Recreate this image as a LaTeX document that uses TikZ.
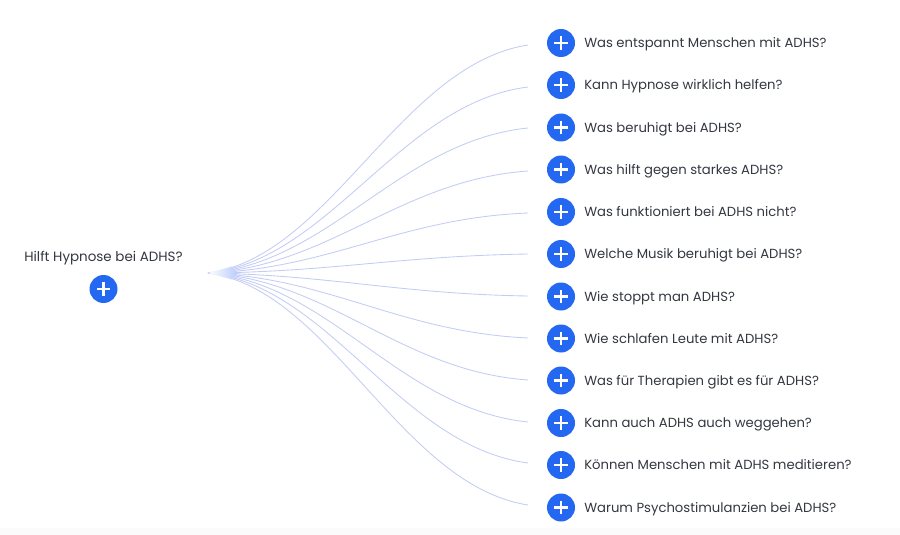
\documentclass[tikz,border=0pt]{standalone}
\usepackage{fontspec}
\setmainfont{Poppins}
\definecolor{plusblue}{HTML}{2468F2}
\definecolor{linkblue}{HTML}{C3CDF4}
\definecolor{blobblue}{HTML}{B9CBFC}
\definecolor{labelgray}{HTML}{333740}
\definecolor{stripgray}{HTML}{FBFBFB}

\begin{document}
\begin{tikzpicture}[x=0.75pt,y=-0.75pt,plusc/.style={shape=circle,fill=plusblue,inner sep=0pt,minimum size=21pt,path picture={\draw[white,line width=1.8pt] ([xshift=-5pt]path picture bounding box.center) -- ([xshift=5pt]path picture bounding box.center) ([yshift=-5pt]path picture bounding box.center) -- ([yshift=5pt]path picture bounding box.center);}},question/.style={anchor=base west,inner sep=0pt,yshift=-3.4pt,text=labelgray,font=\fontsize{9.9}{11}\selectfont},link/.style={draw=linkblue,line width=0.65pt}]
\def\xp{561};
\def\xt{584};
\def\xe{528};
\def\ca{330};
\def\cb{400};

\useasboundingbox (0,0) rectangle (900,535);
\fill[stripgray] (0,528) rectangle (900,535);

\node[question,anchor=base,font=\fontsize{10.1}{11}\selectfont] (T) at (103.5,257) {Hilft Hypnose bei ADHS?};
\node[plusc] (R) at (103.5,289) {};
\coordinate (S) at (208,273);

\node[plusc] (P1) at (\xp,43) {};
\node[question] (Q1) at (\xt,43) {Was entspannt Menschen mit ADHS?};
\coordinate (E1) at (\xe,45);
\draw[link] (S) .. controls (\ca,257) and (\cb,65) .. (E1);

\node[plusc] (P2) at (\xp,85) {};
\node[question] (Q2) at (\xt,85) {Kann Hypnose wirklich helfen?};
\coordinate (E2) at (\xe,87);
\draw[link] (S) .. controls (\ca,260) and (\cb,103) .. (E2);

\node[plusc] (P3) at (\xp,127.5) {};
\node[question] (Q3) at (\xt,127.5) {Was beruhigt bei ADHS?};
\coordinate (E3) at (\xe,128);
\draw[link] (S) .. controls (\ca,263) and (\cb,141) .. (E3);

\node[plusc] (P4) at (\xp,169.5) {};
\node[question] (Q4) at (\xt,169.5) {Was hilft gegen starkes ADHS?};
\coordinate (E4) at (\xe,171);
\draw[link] (S) .. controls (\ca,266) and (\cb,180) .. (E4);

\node[plusc] (P5) at (\xp,212) {};
\node[question] (Q5) at (\xt,212) {Was funktioniert bei ADHS nicht?};
\coordinate (E5) at (\xe,213);
\draw[link] (S) .. controls (\ca,269) and (\cb,218) .. (E5);

\node[plusc] (P6) at (\xp,254) {};
\node[question] (Q6) at (\xt,254) {Welche Musik beruhigt bei ADHS?};
\coordinate (E6) at (\xe,254);
\draw[link] (S) .. controls (\ca,272) and (\cb,256) .. (E6);

\node[plusc] (P7) at (\xp,296.5) {};
\node[question] (Q7) at (\xt,296.5) {Wie stoppt man ADHS?};
\coordinate (E7) at (\xe,296);
\draw[link] (S) .. controls (\ca,275) and (\cb,294) .. (E7);

\node[plusc] (P8) at (\xp,338.5) {};
\node[question] (Q8) at (\xt,338.5) {Wie schlafen Leute mit ADHS?};
\coordinate (E8) at (\xe,338);
\draw[link] (S) .. controls (\ca,278) and (\cb,332) .. (E8);

\node[plusc] (P9) at (\xp,380.5) {};
\node[question] (Q9) at (\xt,380.5) {Was für Therapien gibt es für ADHS?};
\coordinate (E9) at (\xe,380);
\draw[link] (S) .. controls (\ca,280) and (\cb,371) .. (E9);

\node[plusc] (P10) at (\xp,423) {};
\node[question] (Q10) at (\xt,423) {Kann auch ADHS auch weggehen?};
\coordinate (E10) at (\xe,422);
\draw[link] (S) .. controls (\ca,283) and (\cb,409) .. (E10);

\node[plusc] (P11) at (\xp,465) {};
\node[question] (Q11) at (\xt,465) {Können Menschen mit ADHS meditieren?};
\coordinate (E11) at (\xe,463);
\draw[link] (S) .. controls (\ca,286) and (\cb,446) .. (E11);

\node[plusc] (P12) at (\xp,507.5) {};
\node[question] (Q12) at (\xt,507.5) {Warum Psychostimulanzien bei ADHS?};
\coordinate (E12) at (\xe,505);
\draw[link] (S) .. controls (\ca,289) and (\cb,485) .. (E12);

\shade[left color=white,middle color=blobblue,right color=blobblue] (S) -- (232,266.5) -- (238,273) -- (232,279.5) -- cycle;
\end{tikzpicture}
\end{document}
